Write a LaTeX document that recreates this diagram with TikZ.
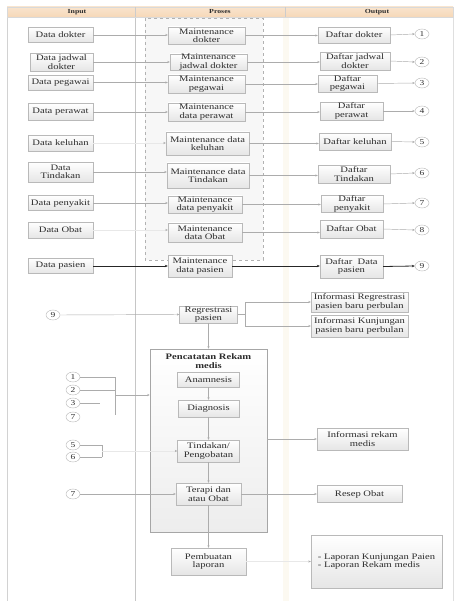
\documentclass[tikz,border=0pt]{standalone}
\usepackage{fontspec}
\setmainfont{Liberation Serif}[FakeStretch=1.26]
\usetikzlibrary{arrows.meta,shapes.geometric}
\definecolor{peach}{RGB}{246,216,184}
\definecolor{txt}{RGB}{45,45,45}
\definecolor{beige}{RGB}{252,249,241}
\begin{document}
\begin{tikzpicture}[x=1pt,y=-1pt,
  font=\fontsize{8.4}{8.4}\selectfont,
  bx/.style={rectangle, draw=gray!55, line width=0.4pt, top color=white, bottom color=gray!20,
    align=center, inner xsep=1pt, inner ysep=0.3pt, text=txt},
  circ/.style={ellipse, draw=gray!60, line width=0.4pt, fill=white, minimum width=14pt,
    minimum height=10pt, inner sep=0pt, font=\fontsize{7.5}{7.5}\selectfont, text=txt},
  ar/.style={draw=gray!65, line width=0.45pt, -{Stealth[length=2.5pt,width=2.2pt]}},
  ln/.style={draw=gray!65, line width=0.45pt},
  arf/.style={draw=gray!18, line width=0.45pt, -{Stealth[length=2.5pt,width=2.2pt,color=gray!65]}},
  arb/.style={draw=black!85, line width=0.8pt, -{Stealth[length=3pt,width=2.5pt]}},
  hdr/.style={font=\bfseries\fontsize{6.2}{6.2}\selectfont, text=txt}]
\useasboundingbox (0,0) rectangle (457,601);
% frame and columns
\fill[beige] (283,17) rectangle (289,601);
\draw[gray!35, line width=0.5pt] (7,7) -- (7,601);
\draw[gray!25, line width=0.5pt] (453,7) -- (453,601);
\draw[gray!45, line width=0.5pt] (135,17) -- (135,601);
\shade[top color=peach!70, bottom color=peach, draw=gray!30, line width=0.3pt] (7,7) rectangle (453,17);
\draw[gray!40, line width=0.3pt] (135,7) -- (135,17) (285,7) -- (285,17);
\node[hdr] (hin) at (77,12) {Input};
\node[hdr] (hpr) at (220,12) {Proses};
\node[hdr] (hout) at (377,12) {Output};
% dashed proses area
\draw[gray!60, dashed, fill=gray!6, line width=0.45pt] (145,18) rectangle (263,260);
% input boxes
\node[bx,minimum width=65pt,minimum height=15pt] (i1) at (60.5,35) {Data dokter};
\node[bx,minimum width=63pt,minimum height=18pt] (i2) at (61.5,62) {Data jadwal\\dokter};
\node[bx,minimum width=65pt,minimum height=15pt] (i3) at (60.5,82.5) {Data pegawai};
\node[bx,minimum width=65pt,minimum height=17pt] (i4) at (60.5,112) {Data perawat};
\node[bx,minimum width=65pt,minimum height=16pt] (i5) at (60.5,143) {Data keluhan};
\node[bx,minimum width=65pt,minimum height=20pt] (i6) at (60.5,172) {Data\\Tindakan};
\node[bx,minimum width=65pt,minimum height=15pt] (i7) at (60.5,203) {Data penyakit};
\node[bx,minimum width=65pt,minimum height=16pt] (i8) at (60.5,230) {Data Obat};
\node[bx,minimum width=65pt,minimum height=15pt] (i9) at (60.5,266) {Data pasien};
% proses boxes
\node[bx,minimum width=77pt,minimum height=17pt] (p1) at (206.5,35.5) {Maintenance\\dokter};
\node[bx,minimum width=77pt,minimum height=16pt] (p2) at (208.5,62) {Maintenance\\jadwal dokter};
\node[bx,minimum width=77pt,minimum height=18pt] (p3) at (206.5,84) {Maintenance\\pegawai};
\node[bx,minimum width=77pt,minimum height=18pt] (p4) at (206.5,112) {Maintenance\\data perawat};
\node[bx,minimum width=83pt,minimum height=23pt] (p5) at (207.5,143.5) {Maintenance data\\keluhan};
\node[bx,minimum width=82pt,minimum height=25pt] (p6) at (208,175.5) {Maintenance data\\Tindakan};
\node[bx,minimum width=74pt,minimum height=17pt] (p7) at (205,204.5) {Maintenance\\data penyakit};
\node[bx,minimum width=74pt,minimum height=19pt] (p8) at (205,232.5) {Maintenance\\data Obat};
\node[bx,minimum width=64pt,minimum height=22pt] (p9) at (200,266) {Maintenance\\data pasien};
% output boxes
\node[bx,minimum width=72pt,minimum height=16pt] (o1) at (354,35) {Daftar dokter};
\node[bx,minimum width=70pt,minimum height=18pt] (o2) at (355,61) {Daftar jadwal\\dokter};
\node[bx,minimum width=59pt,minimum height=17pt] (o3) at (347.5,83.5) {Daftar\\pegawai};
\node[bx,minimum width=63pt,minimum height=18pt] (o4) at (351.5,111) {Daftar\\perawat};
\node[bx,minimum width=72pt,minimum height=17pt] (o5) at (355,141.5) {Daftar keluhan};
\node[bx,minimum width=72pt,minimum height=18pt] (o6) at (354,174) {Daftar\\Tindakan};
\node[bx,minimum width=62pt,minimum height=16pt] (o7) at (352,204) {Daftar\\penyakit};
\node[bx,minimum width=63pt,minimum height=18pt] (o8) at (351.5,229) {Daftar Obat};
\node[bx,minimum width=63pt,minimum height=23pt] (o9) at (351.5,266.5) {Daftar\ \ Data\\pasien};
% output circles
\node[circ] (c1) at (422,34) {1};
\node[circ] (c2) at (422,62) {2};
\node[circ] (c3) at (422,83) {3};
\node[circ] (c4) at (422,111) {4};
\node[circ] (c5) at (422,142) {5};
\node[circ] (c6) at (422,173) {6};
\node[circ] (c7) at (422,203) {7};
\node[circ] (c8) at (422,230) {8};
\node[circ] (c9) at (422,266) {9};
% row connectors
\draw[ar] (i1.east) -- (i1.east -| p1.west);
\draw[ar] (i2.east) -- (i2.east -| p2.west);
\draw[ar] (i3.east) -- (i3.east -| p3.west);
\draw[ar] (i4.east) -- (i4.east -| p4.west);
\draw[arf] (i5.east) -- (i5.east -| p5.west);
\draw[ar] (i6.east) -- (i6.east -| p6.west);
\draw[ar] (i7.east) -- (i7.east -| p7.west);
\draw[arf] (i8.east) -- (i8.east -| p8.west);
\draw[arb] (i9.east) -- (i9.east -| p9.west);
\draw[ar] (p1.east) -- (p1.east -| o1.west);
\draw[ar] (p2.east) -- (p2.east -| o2.west);
\draw[ar] (p3.east) -- (p3.east -| o3.west);
\draw[ar] (p4.east) -- (p4.east -| o4.west);
\draw[ar] (p5.east) -- (p5.east -| o5.west);
\draw[ar] (p6.east) -- (p6.east -| o6.west);
\draw[ar] (p7.east) -- (p7.east -| o7.west);
\draw[ar] (p8.east) -- (p8.east -| o8.west);
\draw[arb] (p9.east) -- (p9.east -| o9.west);
\draw[ar] (o1.east) -- (c1.west);
\draw[ar] (o2.east) -- (c2.west);
\draw[ar] (o3.east) -- (c3.west);
\draw[ar] (o4.east) -- (c4.west);
\draw[ar] (o5.east) -- (c5.west);
\draw[ar] (o6.east) -- (c6.west);
\draw[ar] (o7.east) -- (c7.west);
\draw[ar] (o8.east) -- (c8.west);
\draw[arb] (o9.east) -- (c9.west);
% second part
\node[circ] (q9) at (53,315) {9};
\node[bx,minimum width=58pt,minimum height=17pt] (reg) at (208.5,314.5) {Regrestrasi\\pasien};
\node[bx,minimum width=97pt,minimum height=20pt] (inf1) at (359.5,302) {Informasi Regrestrasi\\pasien baru perbulan};
\node[bx,minimum width=97pt,minimum height=22pt] (inf2) at (359.5,326) {Informasi Kunjungan\\pasien baru perbulan};
\coordinate (bt) at (245,302);
\coordinate (bb) at (245,326);
\draw[ar] (q9.east) -- (reg.west);
\draw[ln] (reg.east) -- (reg.east -| bt);
\draw[ln] (bt) -- (bb);
\draw[ar] (bt) -- (inf1.west);
\draw[ar] (bb) -- (inf2.west);
% pencatatan box
\node[rectangle, draw=gray!70, line width=0.5pt, top color=white, bottom color=gray!14,
  minimum width=117pt, minimum height=183pt] (pen) at (208.5,440.5) {};
\node[font=\bfseries\fontsize{8.4}{8.6}\selectfont, align=center, text=txt] (pent) at (208.5,361) {Pencatatan Rekam\\medis};
\draw[ar] (reg.south) -- (pen.north);
\node[bx,minimum width=62pt,minimum height=15pt] (ana) at (208.5,379.5) {Anamnesis};
\node[bx,minimum width=61pt,minimum height=17pt] (dia) at (208.5,408.5) {Diagnosis};
\node[bx,minimum width=62pt,minimum height=22pt] (tin) at (208.5,451) {Tindakan/\\Pengobatan};
\node[bx,minimum width=65pt,minimum height=22pt] (ter) at (208.5,494) {Terapi dan\\atau Obat};
\node[bx,minimum width=75pt,minimum height=27pt] (pem) at (208.5,561.5) {Pembuatan\\laporan};
\draw[ar] (ana.south) -- (dia.north);
\draw[ar] (dia.south) -- (tin.north);
\draw[ar] (tin.south) -- (ter.north);
\draw[ar] (ter.south) -- (pem.north);
\node[bx,minimum width=91pt,minimum height=22pt] (irm) at (362.5,439) {Informasi rekam\\medis};
\node[bx,minimum width=85pt,minimum height=17pt] (res) at (359.5,494) {Resep Obat};
\node[bx,minimum width=131pt,minimum height=53pt, align=left] (lap) at (376.5,561.5) {- Laporan Kunjungan Paien\\- Laporan Rekam medis};
\draw[ar] (irm.west -| pen.east) -- (irm.west);
\draw[ar] (ter.east) -- (res.west);
\draw[arf] (pem.east) -- (lap.west);
% left circles
\node[circ] (l1) at (73,377) {1};
\node[circ] (l2) at (73,390) {2};
\node[circ] (l3) at (73,403) {3};
\node[circ] (l7) at (73,417) {7};
\node[circ] (l5) at (73,445) {5};
\node[circ] (l6) at (73,457) {6};
\node[circ] (m7) at (73,494) {7};
\coordinate (ka) at (115,377);
\coordinate (kb) at (115,415);
\coordinate (kc) at (115,395);
\draw[ln] (l1.east) -- (l1.east -| ka);
\draw[ln] (l2.east) -- (l2.east -| ka);
\draw[ln] (l3.east) -- (100,403);
\draw[ln] (ka) -- (kb);
\draw[ar] (kc) -- (kc -| pen.west);
\coordinate (ma) at (102,445);
\coordinate (mb) at (102,457);
\coordinate (mc) at (102,451);
\draw[ln] (l5.east) -- (ma) -- (mb);
\draw[ln] (l6.east) -- (mb);
\draw[arf] (mc) -- (mc -| tin.west);
\draw[ar] (m7.east) -- (ter.west);
\end{tikzpicture}
\end{document}
